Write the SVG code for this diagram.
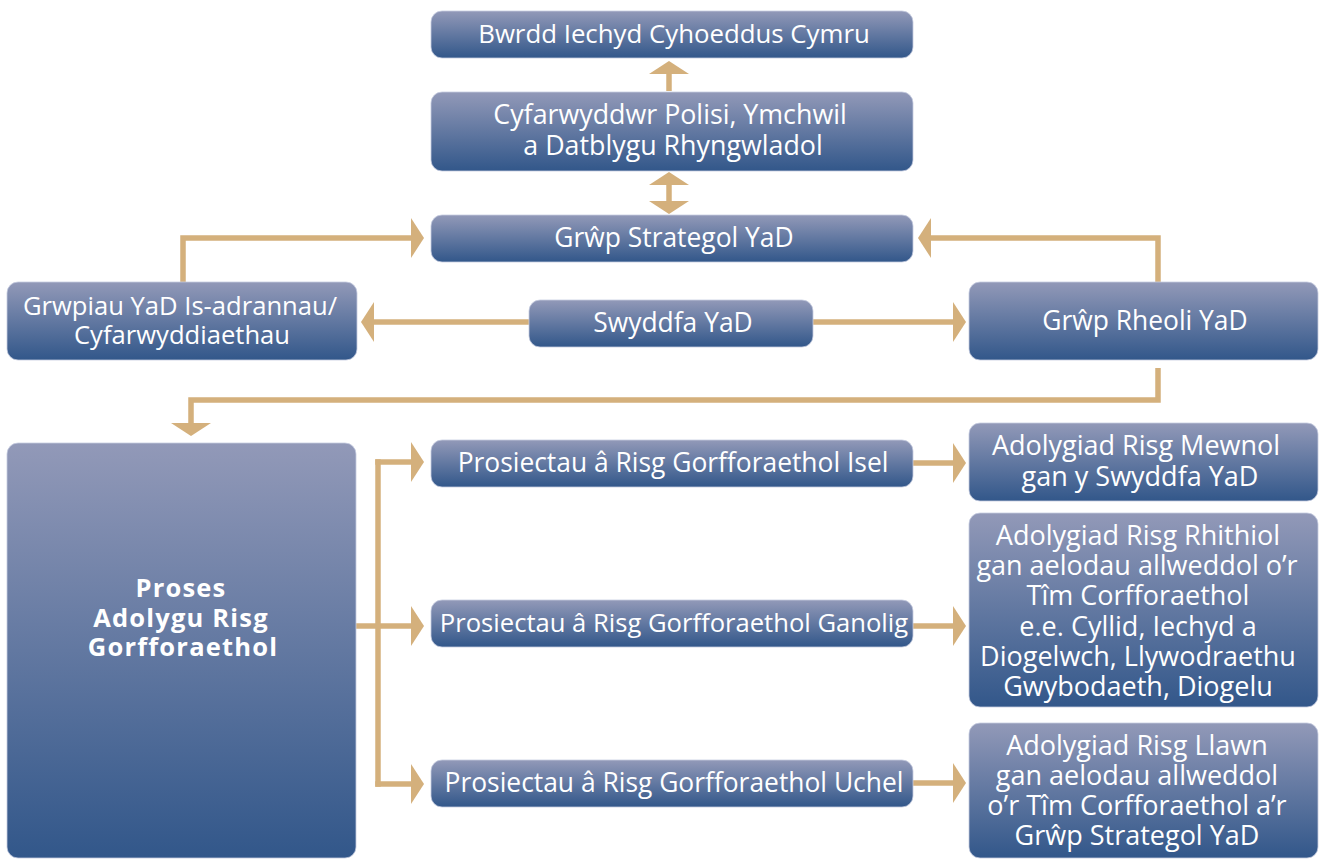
<svg xmlns="http://www.w3.org/2000/svg" width="1322" height="860" viewBox="0 0 1322 860">
<defs>
<linearGradient id="g" x1="0" y1="0" x2="0" y2="1">
<stop offset="0" stop-color="#9299b8"/>
<stop offset="1" stop-color="#32578a"/>
</linearGradient>
<marker id="ah" markerUnits="userSpaceOnUse" markerWidth="14" markerHeight="40" refX="0" refY="20" orient="auto-start-reverse" viewBox="0 0 14 40">
<path d="M0,0 L13,20 L0,40 Z" fill="#d4b07c"/>
</marker>
<style>
.box{fill:url(#g);stroke:#c5cbe0;stroke-width:0.8}
.t{font-family:"Open Sans","Noto Sans","DejaVu Sans",sans-serif;font-size:26.4px;fill:#ffffff;text-anchor:middle}
.r{font-size:27px}
.b{font-weight:bold;font-size:25.5px;letter-spacing:1.2px}
.c{fill:none;stroke:#d4b07c;stroke-width:5.5}
</style>
</defs>
<rect width="1322" height="860" fill="#ffffff"/>
<g id="connectors">
<polyline class="c" points="669,91 669,74" marker-end="url(#ah)"/>
<polyline class="c" points="669,185 669,201" marker-start="url(#ah)" marker-end="url(#ah)"/>
<polyline class="c" points="183,282 183,238 411,238" marker-end="url(#ah)"/>
<polyline class="c" points="1158,282 1158,238 931,238" marker-end="url(#ah)"/>
<polyline class="c" points="529,322 374,322" marker-end="url(#ah)"/>
<polyline class="c" points="813,322 953,322" marker-end="url(#ah)"/>
<polyline class="c" points="1158,368 1158,400 191,400 191,423" marker-end="url(#ah)"/>
<polyline class="c" points="356,626 378,626"/>
<polyline class="c" points="378,459.25 378,786.75"/>
<polyline class="c" points="375.25,462 411,462" marker-end="url(#ah)"/>
<polyline class="c" points="378,626 411,626" marker-end="url(#ah)"/>
<polyline class="c" points="375.25,784 411,784" marker-end="url(#ah)"/>
<polyline class="c" points="913,463 953,463" marker-end="url(#ah)"/>
<polyline class="c" points="913,626 953,626" marker-end="url(#ah)"/>
<polyline class="c" points="913,783 953,783" marker-end="url(#ah)"/>
</g>
<g id="bwrdd"><rect class="box" x="431" y="11" width="482" height="47" rx="11"/><text class="t" x="674" y="43" style="font-size:25.8px">Bwrdd Iechyd Cyhoeddus Cymru</text></g>
<g id="cyfarwyddwr"><rect class="box" x="431" y="92" width="482" height="79" rx="11"/><text class="t" style="font-size:26.8px"><tspan x="670" y="124">Cyfarwyddwr Polisi, Ymchwil</tspan><tspan x="673" y="155">a Datblygu Rhyngwladol</tspan></text></g>
<g id="strategol"><rect class="box" x="431" y="215" width="482" height="47" rx="11"/><text class="t" x="674" y="247">Grŵp Strategol YaD</text></g>
<g id="grwpiau"><rect class="box" x="7" y="282" width="350" height="78" rx="11"/><text class="t" style="font-size:25.6px"><tspan x="180" y="315">Grwpiau YaD Is-adrannau/</tspan><tspan x="182" y="344">Cyfarwyddiaethau</tspan></text></g>
<g id="swyddfa"><rect class="box" x="529" y="300" width="284" height="47" rx="11"/><text class="t" x="673" y="332">Swyddfa YaD</text></g>
<g id="rheoli"><rect class="box" x="969" y="282" width="349" height="78" rx="11"/><text class="t" x="1145" y="330">Grŵp Rheoli YaD</text></g>
<g id="proses"><rect class="box" x="7" y="443" width="349" height="415" rx="11"/><text class="t b"><tspan x="181" y="597">Proses</tspan><tspan x="181" y="627">Adolygu Risg</tspan><tspan x="183" y="656">Gorfforaethol</tspan></text></g>
<g id="isel"><rect class="box" x="431" y="440" width="482" height="47" rx="11"/><text class="t" x="673" y="472">Prosiectau â Risg Gorfforaethol Isel</text></g>
<g id="ganolig"><rect class="box" x="431" y="600" width="482" height="47" rx="11"/><text class="t" x="674" y="632" style="font-size:25.6px">Prosiectau â Risg Gorfforaethol Ganolig</text></g>
<g id="uchel"><rect class="box" x="431" y="760" width="482" height="47" rx="11"/><text class="t" x="674" y="792">Prosiectau â Risg Gorfforaethol Uchel</text></g>
<g id="mewnol"><rect class="box" x="969" y="423" width="349" height="78" rx="11"/><text class="t r"><tspan x="1136" y="455">Adolygiad Risg Mewnol</tspan><tspan x="1140" y="486">gan y Swyddfa YaD</tspan></text></g>
<g id="rhithiol"><rect class="box" x="969" y="513" width="349" height="194" rx="11"/><text class="t r"><tspan x="1138" y="545">Adolygiad Risg Rhithiol</tspan><tspan x="1137" y="575">gan aelodau allweddol o’r</tspan><tspan x="1138" y="605">Tîm Corfforaethol</tspan><tspan x="1138" y="636">e.e. Cyllid, Iechyd a</tspan><tspan x="1138" y="666">Diogelwch, Llywodraethu</tspan><tspan x="1138" y="696">Gwybodaeth, Diogelu</tspan></text></g>
<g id="llawn"><rect class="box" x="969" y="723" width="349" height="135" rx="11"/><text class="t r"><tspan x="1137" y="755">Adolygiad Risg Llawn</tspan><tspan x="1137" y="785">gan aelodau allweddol</tspan><tspan x="1137" y="815">o’r Tîm Corfforaethol a’r</tspan><tspan x="1137" y="845">Grŵp Strategol YaD</tspan></text></g>
</svg>
